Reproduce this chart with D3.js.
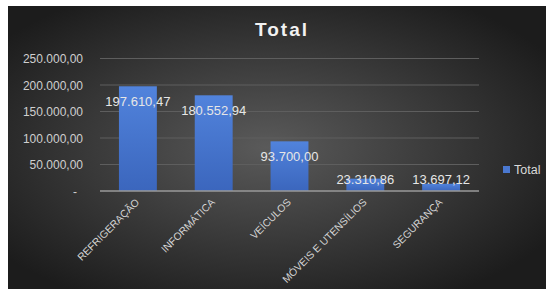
<!DOCTYPE html>
<html>
<head>
<meta charset="utf-8">
<script src="https://cdn.jsdelivr.net/npm/d3@7"></script>
<style>
  body { margin: 0; background: #fff; }
  svg { display: block; }
</style>
</head>
<body>
<div id="chart"></div>
<script>
// data
var categories = ['REFRIGERAÇÃO', 'INFORMÁTICA', 'VEÍCULOS', 'MÓVEIS E UTENSÍLIOS', 'SEGURANÇA'];
var totals = [197610.47, 180552.94, 93700.00, 23310.86, 13697.12];
var yTicks = [0, 50000, 100000, 150000, 200000, 250000];
var seriesName = 'Total';

var width = 546, height = 289;
var fontFam = '"Liberation Sans", Arial, sans-serif';

// pt-BR style numbers: 197.610,47
function fmtBR(v) {
  var s = v.toFixed(2).split('.');
  var intPart = s[0].replace(/\B(?=(\d{3})+(?!\d))/g, '.');
  return intPart + ',' + s[1];
}

var svg = d3.select('#chart').append('svg').attr('width', width).attr('height', height);

var defs = svg.append('defs');
var bg = defs.append('radialGradient').attr('id', 'bg')
  .attr('cx', '48%').attr('cy', '50%').attr('r', '62%');
bg.append('stop').attr('offset', '0%').attr('stop-color', '#5a5a5a');
bg.append('stop').attr('offset', '100%').attr('stop-color', '#1c1c1c');

var barGrad = defs.append('linearGradient').attr('id', 'bar')
  .attr('x1', 0).attr('y1', 0).attr('x2', 0).attr('y2', 1);
barGrad.append('stop').attr('offset', '0%').attr('stop-color', '#5183dc');
barGrad.append('stop').attr('offset', '100%').attr('stop-color', '#3b66bd');

svg.append('rect').attr('x', 8).attr('y', 6).attr('width', width - 8).attr('height', height - 6)
  .attr('fill', 'url(#bg)');

var x = d3.scaleBand().domain(categories).range([100, 479]).paddingInner(0.5).paddingOuter(0.25);
var y = d3.scaleLinear().domain([0, 250000]).range([191, 58.5]);

// gridlines
svg.append('g').selectAll('line').data(yTicks.slice(1)).enter().append('line')
  .attr('x1', 100).attr('x2', 479)
  .attr('y1', function(d) { return y(d); }).attr('y2', function(d) { return y(d); })
  .attr('stroke', '#5e5e5e').attr('stroke-width', 1);

// y axis labels
var yAxis = d3.axisLeft(y).tickValues(yTicks).tickSize(0).tickPadding(0)
  .tickFormat(function(d) { return d === 0 ? '-' : fmtBR(d); });
var yg = svg.append('g').attr('transform', 'translate(83,0)').call(yAxis);
yg.select('.domain').remove();
yg.selectAll('text').attr('fill', '#cfcfcf').style('font-family', fontFam).style('font-size', '12px')
  .attr('dy', '0.35em');
yg.selectAll('text').filter(function(d) { return d === 0; }).attr('x', -6);

// bars
svg.append('g').selectAll('rect').data(totals).enter().append('rect')
  .attr('x', function(d, i) { return x(categories[i]); })
  .attr('y', function(d) { return y(d); })
  .attr('width', x.bandwidth())
  .attr('height', function(d) { return y(0) - y(d); })
  .attr('fill', 'url(#bar)');

// baseline
svg.append('line').attr('x1', 100).attr('x2', 479).attr('y1', y(0)).attr('y2', y(0))
  .attr('stroke', '#9a9a9a').attr('stroke-width', 1.5);

// data labels
svg.append('g').selectAll('text').data(totals).enter().append('text')
  .attr('x', function(d, i) { return x(categories[i]) + x.bandwidth() / 2; })
  .attr('y', function(d) { return Math.min(y(d) + 15, y(0) - 12); })
  .attr('dy', '0.35em')
  .attr('text-anchor', 'middle')
  .attr('fill', '#e6e6e6')
  .style('font-family', fontFam).style('font-size', '13px')
  .text(function(d) { return fmtBR(d); });

// x labels rotated
var xAxis = d3.axisBottom(x).tickSize(0).tickPadding(0);
var xg = svg.append('g').attr('transform', 'translate(0,' + y(0) + ')').call(xAxis);
xg.select('.domain').remove();
xg.selectAll('text')
  .attr('fill', '#d4d4d4').style('font-family', fontFam).style('font-size', '10.3px')
  .attr('text-anchor', 'end')
  .attr('dy', 0).attr('y', 0)
  .attr('transform', 'translate(2,12) rotate(-45)');

// title
svg.append('text').attr('x', 282).attr('y', 36).attr('text-anchor', 'middle')
  .attr('fill', '#f2f2f2').style('font-family', fontFam).style('font-size', '19px')
  .style('font-weight', 'bold').style('letter-spacing', '2px')
  .text(seriesName);

// legend
var lg = svg.append('g').attr('transform', 'translate(503,166)');
lg.append('rect').attr('width', 7).attr('height', 7).attr('fill', '#4a78d0');
lg.append('text').attr('x', 11).attr('y', 7.5).attr('fill', '#d9d9d9')
  .style('font-family', fontFam).style('font-size', '12.5px').text(seriesName);
</script>
</body>
</html>
